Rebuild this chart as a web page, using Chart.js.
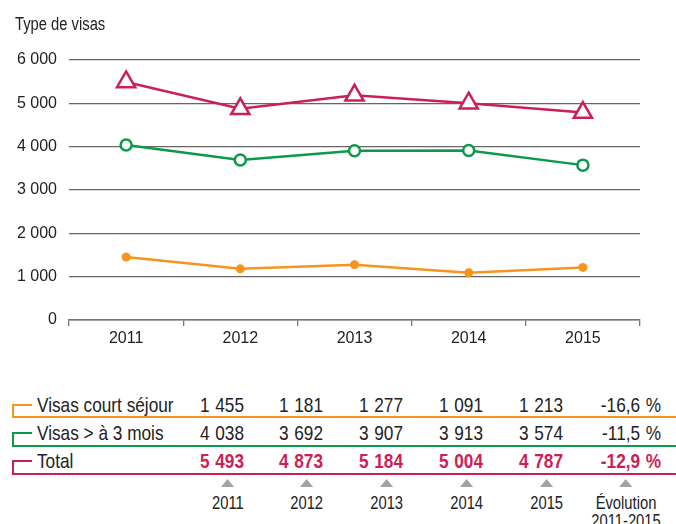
<!DOCTYPE html>
<html><head><meta charset="utf-8">
<script src="https://cdn.jsdelivr.net/npm/chart.js@4.4.1/dist/chart.umd.min.js"></script>
<style>
html,body{margin:0;padding:0;background:#fff;}
#wrap{position:relative;width:676px;height:524px;overflow:hidden;font-family:"Liberation Sans",Arial,sans-serif;color:#222;}
#c{position:absolute;left:0;top:0;}
.abs{position:absolute;white-space:nowrap;}
.cl{transform:scaleX(0.82);transform-origin:0 50%;}
.cr{transform:scaleX(0.82);transform-origin:100% 50%;}
.title{left:15px;top:14px;font-size:18px;line-height:21px;}
.lab{font-size:21px;line-height:24px;left:37px;}
.num{font-size:21px;line-height:24px;text-align:right;word-spacing:1px;}
.bold{font-weight:bold;}
.hl{height:1.5px;}
.vl{width:1.5px;}
.foot{font-size:18px;line-height:18px;text-align:center;}
.tri{width:0;height:0;border-left:8px solid transparent;border-right:8px solid transparent;border-bottom:8px solid #a3a3a3;margin:0 auto 7px auto;}
</style></head>
<body>
<div id="wrap">
  <canvas id="c" width="676" height="350"></canvas>
  <div class="abs title cl">Type de visas</div>
</div>
<script>
const years = ['2011','2012','2013','2014','2015'];
const courtSejour = [1455, 1181, 1277, 1091, 1213];
const plus3Mois = [4038, 3692, 3907, 3913, 3574];
const total = [5493, 4873, 5184, 5004, 4787];
const evolution = ['-16,6 %', '-11,5 %', '-12,9 %'];
const seriesNames = ['Visas court séjour', 'Visas > à 3 mois', 'Total'];
const evolutionLabel = ['Évolution', '2011-2015'];
const yTicks = [0, 1000, 2000, 3000, 4000, 5000, 6000];

const RED = '#cc1f57', GREEN = '#0b9a4a', ORANGE = '#f7941e';
const fmt = v => String(v).replace(/\B(?=(\d{3})+(?!\d))/g, ' ');
const FONT = '"Liberation Sans",Arial,sans-serif';

new Chart(document.getElementById('c'), {
  type: 'line',
  data: {
    labels: years,
    datasets: [
      {label: seriesNames[2], data: total, borderColor: RED, backgroundColor: '#fff', borderWidth: 2.5,
       pointStyle: 'triangle', pointRadius: 10.5, pointBorderWidth: 2.5, pointBackgroundColor: '#fff', pointBorderColor: RED},
      {label: seriesNames[1], data: plus3Mois, borderColor: GREEN, backgroundColor: '#fff', borderWidth: 2.5,
       pointStyle: 'circle', pointRadius: 5.5, pointBorderWidth: 2.5, pointBackgroundColor: '#fff', pointBorderColor: GREEN},
      {label: seriesNames[0], data: courtSejour, borderColor: ORANGE, backgroundColor: ORANGE, borderWidth: 2.5,
       pointStyle: 'circle', pointRadius: 4.5, pointBorderWidth: 0, pointBackgroundColor: ORANGE}
    ]
  },
  options: {
    responsive: false, animation: false,
    layout: {padding: {left: 0, right: 36, top: 60, bottom: 0}},
    plugins: {legend: {display: false}, tooltip: {enabled: false}, title: {display: false}},
    scales: {
      x: {
        offset: true,
        grid: {display: true, offset: true, drawOnChartArea: false, drawTicks: true, tickLength: 6, color: '#777', lineWidth: 1.3},
        border: {display: true, color: '#777', width: 1.5},
        ticks: {color: '#222', padding: 3, font: {family: FONT, size: 16}},
        afterFit: s => { s.height = 30; }
      },
      y: {
        min: 0, max: 6000,
        afterBuildTicks: s => { s.ticks = yTicks.map(v => ({value: v})); },
        grid: {color: '#666', lineWidth: 1.2, drawTicks: false},
        border: {display: false},
        ticks: {color: '#222', padding: 12, callback: v => fmt(v), font: {family: FONT, size: 16}},
        afterFit: s => { s.width = 69; }
      }
    }
  }
});

// Table below the chart
const wrap = document.getElementById('wrap');
function add(cls, style, text) {
  const d = document.createElement('div');
  d.className = 'abs ' + cls;
  Object.assign(d.style, style);
  if (text !== undefined) d.textContent = text;
  wrap.appendChild(d);
  return d;
}
const colRight = [244, 323, 403, 483, 563, 661];
const rows = [
  {name: seriesNames[0], vals: courtSejour, evo: evolution[0], color: ORANGE, cy: 405, ly: 416, bold: false, tc: '#222'},
  {name: seriesNames[1], vals: plus3Mois, evo: evolution[1], color: GREEN, cy: 433, ly: 445, bold: false, tc: '#222'},
  {name: seriesNames[2], vals: total, evo: evolution[2], color: RED, cy: 461, ly: 473, bold: true, tc: RED}
];
rows.forEach(r => {
  add('hl', {left: '12px', top: (r.cy - 0.75) + 'px', width: '20px', background: r.color});
  add('vl', {left: '12px', top: r.cy + 'px', height: (r.ly - r.cy) + 'px', background: r.color});
  add('hl', {left: '12px', top: r.ly + 'px', width: '664px', background: r.color});
  add('lab cl', {top: (r.cy - 12) + 'px'}, r.name);
  const cells = r.vals.map(fmt).concat([r.evo]);
  cells.forEach((t, i) => {
    add('num cr' + (r.bold ? ' bold' : ''), {top: (r.cy - 12) + 'px', left: (colRight[i] - 120) + 'px', width: '120px', color: r.tc}, t);
  });
});
// Footer year markers
const footLabels = years.map(y => [y]).concat([evolutionLabel]);
footLabels.forEach((lines, i) => {
  const d = add('foot cr', {top: '479px'});
  const tri = document.createElement('div'); tri.className = 'tri'; d.appendChild(tri);
  lines.forEach(l => { const s = document.createElement('div'); s.textContent = l; d.appendChild(s); });
  d.style.left = (colRight[i] - d.offsetWidth) + 'px';
});
</script>
</body></html>
